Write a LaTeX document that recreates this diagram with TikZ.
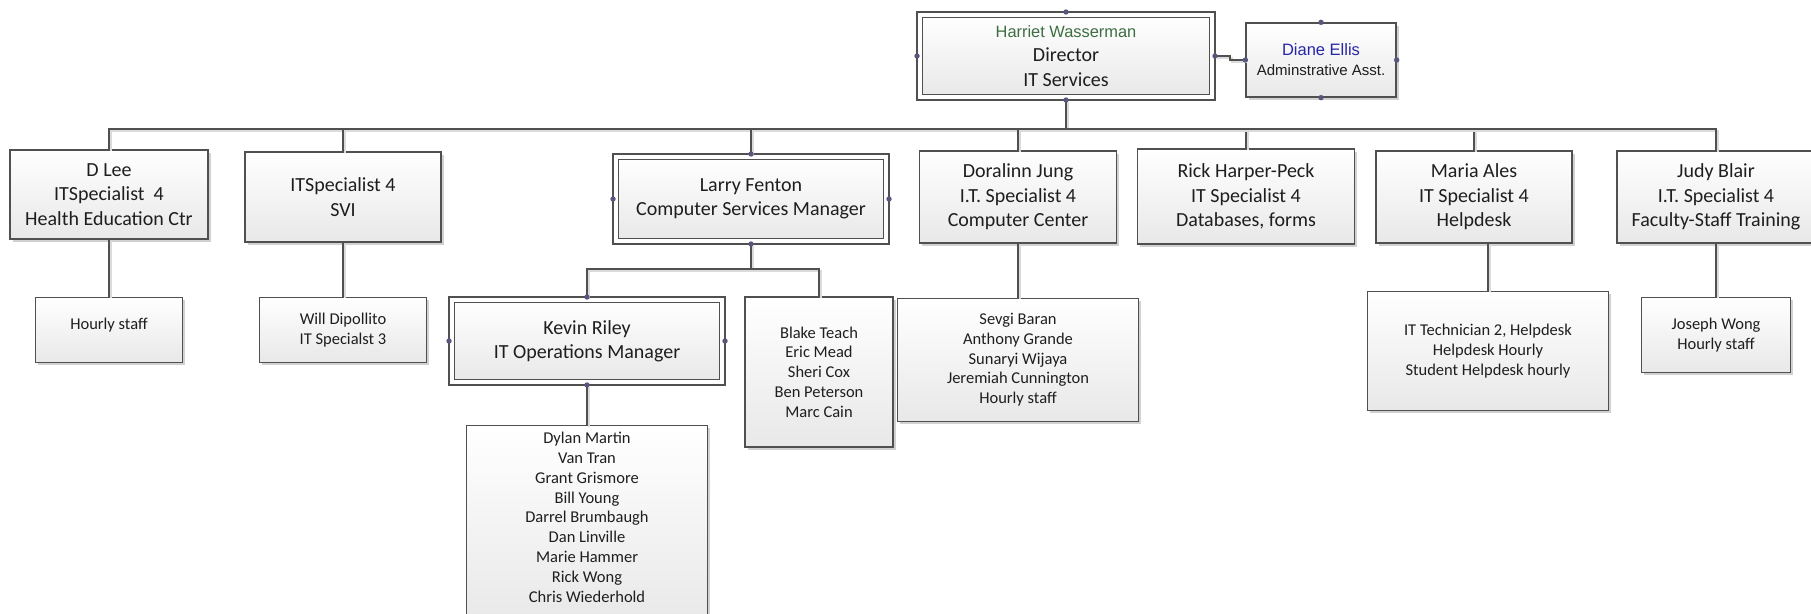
\documentclass[tikz,border=0pt]{standalone}
\usepackage{fontspec}
\setmainfont{Carlito}
\newfontfamily\arialf{Liberation Sans}
\usetikzlibrary{positioning,shadows}
\definecolor{edge}{HTML}{505050}
\definecolor{knob}{HTML}{57577C}
\definecolor{shade}{HTML}{E8E8E8}
\definecolor{ink}{HTML}{1E1E1E}
\definecolor{leaf}{HTML}{3C6E40}
\definecolor{sky}{HTML}{2626A8}
\tikzset{unit/.style={draw=edge,line width=1.3pt,top color=white,bottom color=shade,text=ink,align=center,inner sep=0pt,outer sep=0.65pt,font=\fontsize{20}{24.4}\selectfont,drop shadow={shadow xshift=2.5pt,shadow yshift=-2.5pt,fill=black!18,opacity=1}},head/.style={unit,double,double distance=4.4pt,outer sep=2.85pt},staff/.style={unit,font=\fontsize{16.5}{19.8}\selectfont},link/.style={draw=edge,line width=1.4pt,preaction={draw=black!14,line width=1.4pt,transform canvas={shift={(1.8pt,-1.8pt)}}}}}

\begin{document}
\begin{tikzpicture}[x=1pt,y=-1pt]
\useasboundingbox (0,0) rectangle (1811,613);
% director and assistant
\node[head,minimum width=292.3pt,minimum height=82.3pt] (dir) at (1066,56) {\textcolor{leaf}{\arialf\fontsize{16.4}{19}\selectfont Harriet Wasserman}\\Director\\IT Services};
\node[unit,minimum width=150pt,minimum height=74pt,font=\arialf\fontsize{15}{20}\selectfont] (asst) at (1321,60) {\textcolor{sky}{\fontsize{16.5}{20}\selectfont Diane Ellis}\\Adminstrative Asst.};
% first level
\node[unit,minimum width=198pt,minimum height=89pt] (dlee) at (109,194.5) {D Lee\\ITSpecialist~~4\\Health Education Ctr};
\node[unit,minimum width=196pt,minimum height=90pt] (svi) at (343,197) {ITSpecialist 4\\SVI};
\node[head,minimum width=270.3pt,minimum height=84.3pt] (larry) at (751,199) {Larry Fenton\\Computer Services Manager};
\node[unit,minimum width=197pt,minimum height=92pt] (doralinn) at (1018,197) {Doralinn Jung\\I.T. Specialist 4\\Computer Center};
\node[unit,minimum width=217pt,minimum height=95pt] (rick) at (1246,196.5) {Rick Harper-Peck\\IT Specialist 4\\Databases, forms};
\node[unit,minimum width=196pt,minimum height=92pt] (maria) at (1474,197) {Maria Ales\\IT Specialist 4\\Helpdesk};
\node[unit,minimum width=198pt,minimum height=92pt] (judy) at (1716,197) {Judy Blair\\I.T. Specialist 4\\Faculty-Staff Training};
% second level
\node[staff,minimum width=147pt,minimum height=65pt,text depth=13pt,below=57pt of dlee] (hourly) {Hourly staff};
\node[staff,minimum width=167pt,minimum height=65pt,below=54pt of svi] (will) {Will Dipollito\\IT Specialst 3};
\node[head,minimum width=270.3pt,minimum height=82.3pt] (kevin) at (587,341) {Kevin Riley\\IT Operations Manager};
\node[staff,minimum width=148pt,minimum height=150pt] (blake) at (819,372) {Blake Teach\\Eric Mead\\Sheri Cox\\Ben Peterson\\Marc Cain};
\node[staff,minimum width=241pt,minimum height=123pt,below=54pt of doralinn] (sevgi) {Sevgi Baran\\Anthony Grande\\Sunaryi Wijaya\\Jeremiah Cunnington\\Hourly staff};
\node[staff,minimum width=241pt,minimum height=119pt,below=47pt of maria,xshift=14pt] (helpdesk) {IT Technician 2, Helpdesk\\Helpdesk Hourly\\Student Helpdesk hourly};
\node[staff,minimum width=149pt,minimum height=75pt,below=53pt of judy] (joseph) {Joseph Wong\\Hourly staff};
\node[staff,minimum width=241pt,minimum height=200pt,text depth=17pt,below=40pt of kevin] (dylan) {Dylan Martin\\Van Tran\\Grant Grismore\\Bill Young\\Darrel Brumbaugh\\Dan Linville\\Marie Hammer\\Rick Wong\\Chris Wiederhold};
% connectors
\coordinate (bus) at (0,129); \coordinate (subbus) at (0,269);
\foreach \n in {dlee,svi,larry,doralinn,rick,maria,judy} \draw[link] (dir.south) -- (dir.south |- bus) -| (\n.north);
\draw[link] (larry.south) -- (larry.south |- subbus) -| (kevin.north); \draw[link] (larry.south) -- (larry.south |- subbus) -| (blake.north);
\draw[link] (dir.east) -- ++(15,0) |- (asst.west);
\draw[link] (dlee.south) -- (hourly.north); \draw[link] (svi.south) -- (will.north); \draw[link] (kevin.south) -- (dylan.north); \draw[link] (doralinn.south) -- (sevgi.north); \draw[link] (helpdesk.north |- maria.south) -- (helpdesk.north); \draw[link] (judy.south) -- (joseph.north);
% connection points
\foreach \n in {dir,asst,larry,kevin} \foreach \a in {north,south,east,west} \fill[knob] (\n.\a) circle (2.7pt);
\end{tikzpicture}
\end{document}
